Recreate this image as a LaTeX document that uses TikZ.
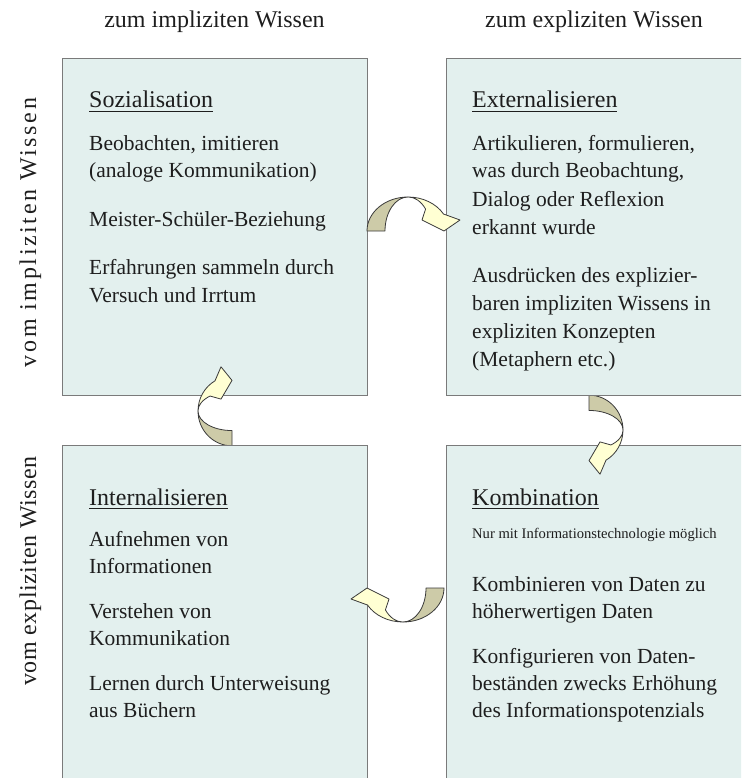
\documentclass[tikz,border=0pt]{standalone}
\usepackage{fontspec}
\setmainfont{Liberation Serif}
\definecolor{boxfill}{HTML}{E3F0EE}
\definecolor{boxline}{HTML}{7A7A7A}
\definecolor{arrdark}{HTML}{CDCBA8}
\definecolor{arrlight}{HTML}{FFFFD3}
\definecolor{arrline}{HTML}{3A3A3A}
\definecolor{txtcol}{HTML}{1E1E1E}
\newcommand\uline[1]{\setbox0\hbox{#1}\rlap{\rule[-4pt]{\wd0}{1.3pt}}\box0}
\newcommand\curvarr{%
  \fill[arrdark,draw=arrline,line width=0.8pt,line join=round]
    (-41,0) arc[start angle=180,end angle=270,x radius=41,y radius=34]
    arc[start angle=270,end angle=180,x radius=23,y radius=34] -- cycle;
  \fill[arrlight,draw=arrline,line width=0.8pt,line join=round]
    (0,-34) arc[start angle=270,end angle=330,x radius=41,y radius=34]
    -- (52,-11) -- (36,0) -- (14,-11) -- (17.6,-21.9)
    arc[start angle=320,end angle=270,x radius=23,y radius=34] -- cycle;}
\begin{document}
\begin{tikzpicture}[x=1pt,y=-1pt,
  box/.style={draw=boxline,fill=boxfill,line width=1.4pt,anchor=north west,
    minimum width=305pt,minimum height=337pt,inner sep=0pt},
  txt/.style={anchor=base west,inner sep=0pt,text=txtcol,font=\fontsize{21.5}{26}\selectfont},
  head/.style={anchor=base west,inner sep=0pt,text=txtcol,font=\fontsize{24}{28}\selectfont},
  small/.style={anchor=base west,inner sep=0pt,text=txtcol,font=\fontsize{14.6}{17}\selectfont},
  axis/.style={anchor=base,inner sep=0pt,text=txtcol,font=\fontsize{24}{28}\selectfont}]
\useasboundingbox (0,0) rectangle (741,778);
\clip (0,0) rectangle (741,778);
% column / row labels
\node[axis] (c1) at (214.5,28) {zum impliziten Wissen};
\node[axis] (c2) at (594,28) {zum expliziten Wissen};
\node[axis,rotate=90] (r1) at (36,232.5) {\addfontfeature{LetterSpace=11}vom impliziten Wissen};
\node[axis,rotate=90] (r2) at (36,571) {\addfontfeature{LetterSpace=2.5}vom expliziten Wissen};
% boxes
\node[box] (soz) at (62,58) {};
\node[box] (ext) at (446,58) {};
\node[box,minimum height=345pt] (int) at (62,445) {};
\node[box,minimum height=345pt] (kom) at (446,445) {};
% arrows
\begin{scope}[shift={(408,231)}]\curvarr\end{scope}
\begin{scope}
  \clip (500,396) rectangle (700,520);
  \begin{scope}[shift={(589,430)},rotate=-90,xscale=0.85]\curvarr\end{scope}
\end{scope}
\begin{scope}[shift={(403,588)},rotate=180]\curvarr\end{scope}
\begin{scope}
  \clip (150,300) rectangle (300,444);
  \begin{scope}[shift={(232,411)},rotate=90,xscale=0.85]\curvarr\end{scope}
\end{scope}
% Sozialisation
\node[head] (s0) at (89,108) {\uline{Sozialisation}};
\node[txt] (s1) at (89,150) {Beobachten, imitieren};
\node[txt] (s2) at (89,178) {(analoge Kommunikation)};
\node[txt] (s3) at (89,226) {Meister-Schüler-Beziehung};
\node[txt] (s4) at (89,274) {Erfahrungen sammeln durch};
\node[txt] (s5) at (89,302) {Versuch und Irrtum};
% Externalisieren
\node[head] (e0) at (472,108) {\uline{Externalisieren}};
\node[txt] (e1) at (472,150) {Artikulieren, formulieren,};
\node[txt] (e2) at (472,178) {was durch Beobachtung,};
\node[txt] (e3) at (472,206) {Dialog oder Reflexion};
\node[txt] (e4) at (472,234) {erkannt wurde};
\node[txt] (e5) at (472,282) {Ausdrücken des explizier-};
\node[txt] (e6) at (472,310) {baren impliziten Wissens in};
\node[txt] (e7) at (472,338) {expliziten Konzepten};
\node[txt] (e8) at (472,366) {(Metaphern etc.)};
% Internalisieren
\node[head] (i0) at (89,505) {\uline{Internalisieren}};
\node[txt] (i1) at (89,546) {Aufnehmen von};
\node[txt] (i2) at (89,573) {Informationen};
\node[txt] (i3) at (89,618) {Verstehen von};
\node[txt] (i4) at (89,645) {Kommunikation};
\node[txt] (i5) at (89,690) {Lernen durch Unterweisung};
\node[txt] (i6) at (89,717) {aus Büchern};
% Kombination
\node[head] (k0) at (472,505) {\uline{Kombination}};
\node[small] (k1) at (472,538) {Nur mit Informationstechnologie möglich};
\node[txt] (k2) at (472,591) {Kombinieren von Daten zu};
\node[txt] (k3) at (472,618) {höherwertigen Daten};
\node[txt] (k4) at (472,663) {Konfigurieren von Daten-};
\node[txt] (k5) at (472,690) {beständen zwecks Erhöhung};
\node[txt] (k6) at (472,717) {des Informationspotenzials};
\end{tikzpicture}
\end{document}
